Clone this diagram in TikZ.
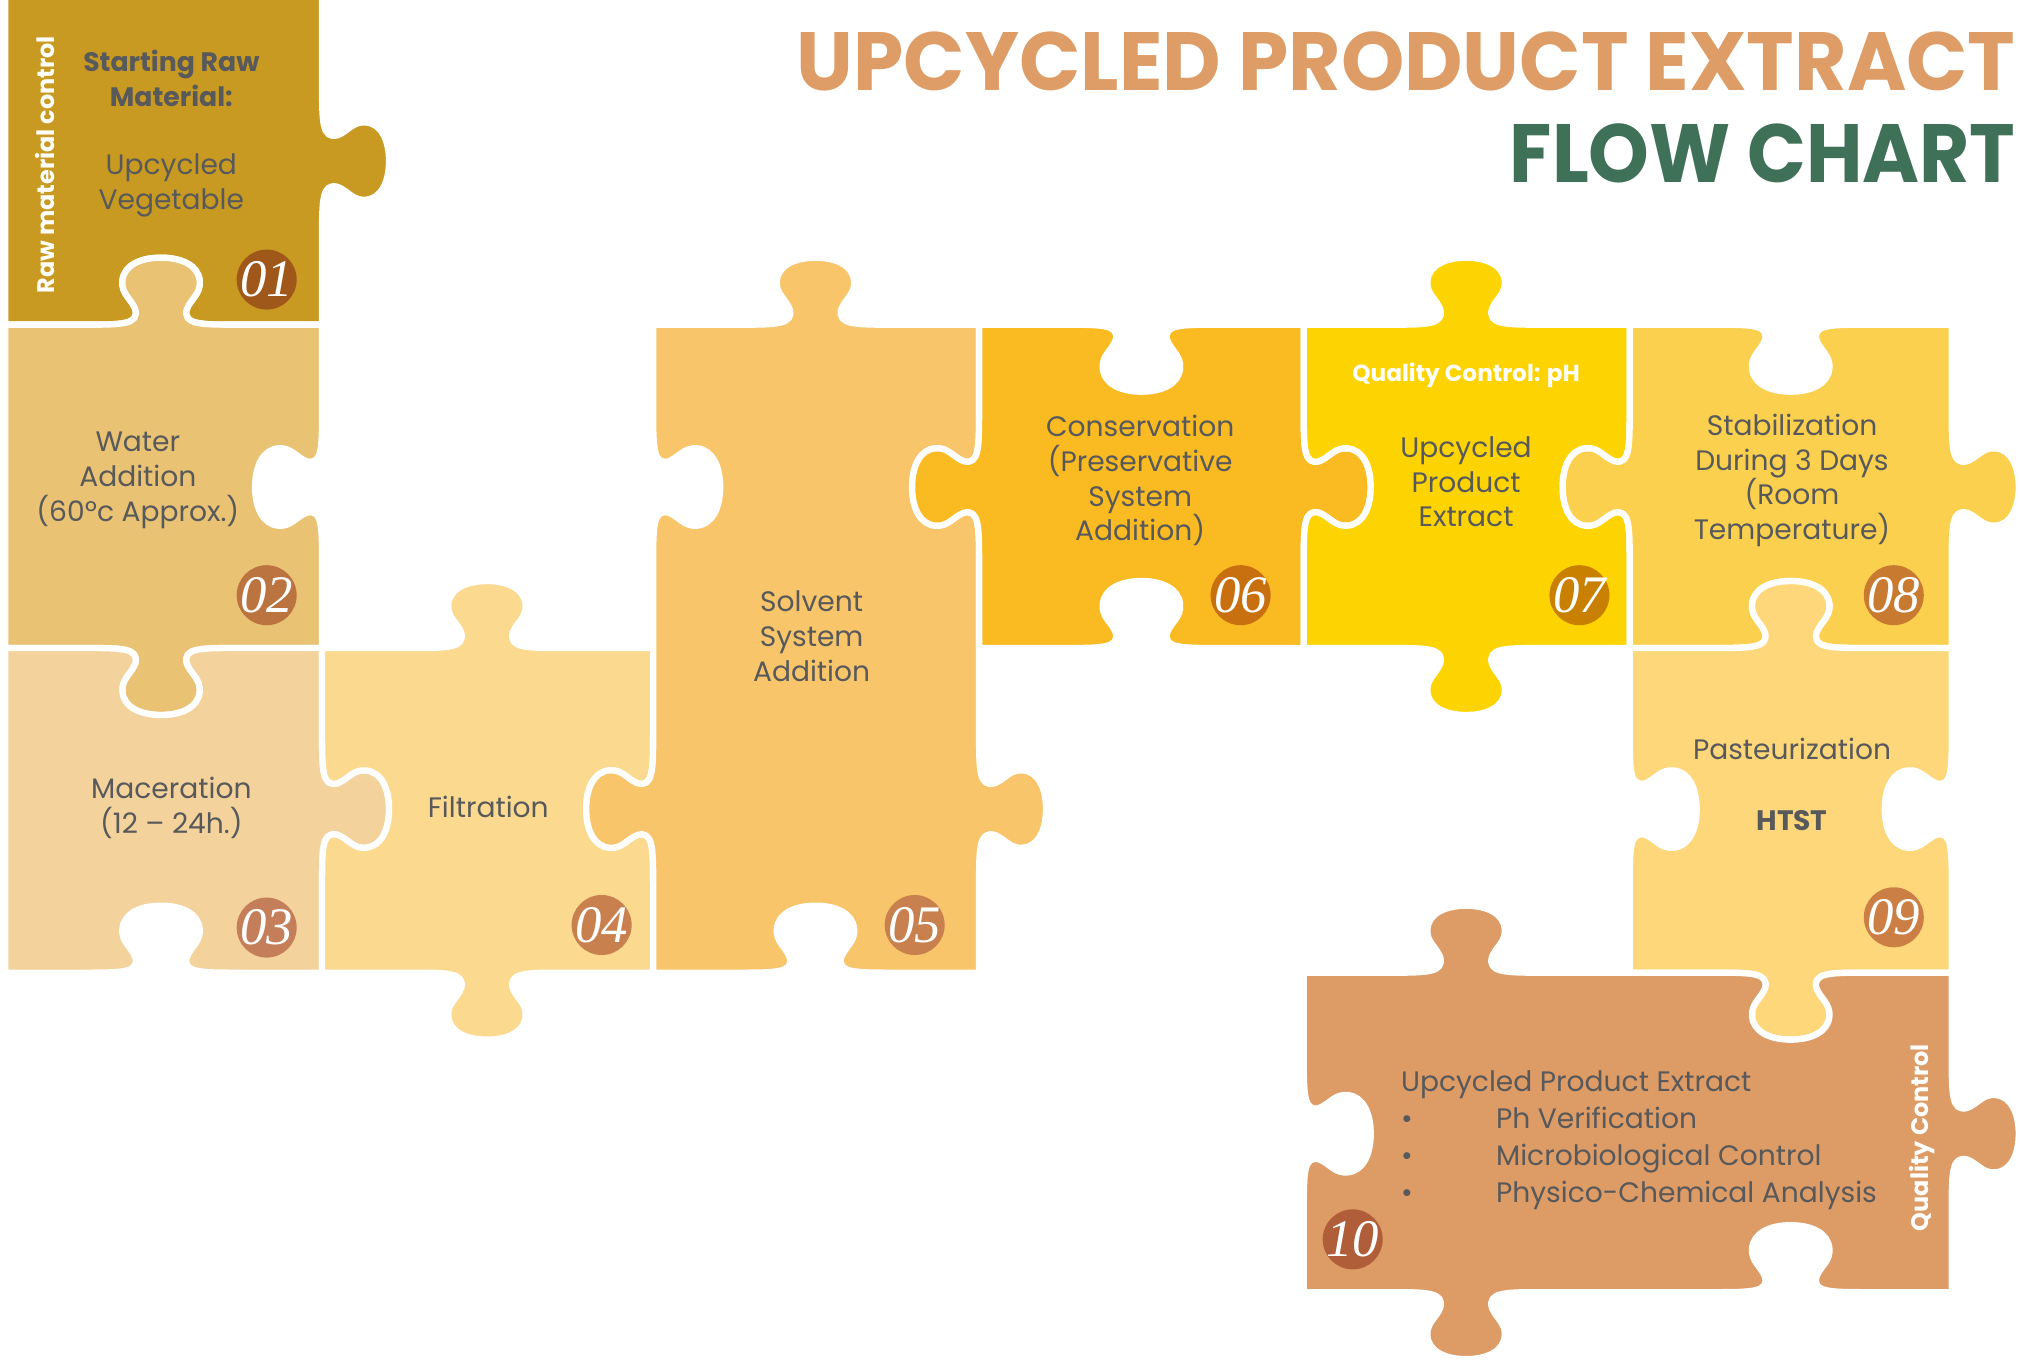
\documentclass[tikz,border=0pt]{standalone}
\usepackage{fontspec}
\setmainfont{Poppins}
\newfontfamily\numfont{Liberation Serif}
\usepackage{xcolor}
\usepackage{graphicx}
\usetikzlibrary{positioning}

\definecolor{ink}{HTML}{58595B}
\definecolor{titleorange}{HTML}{DE9D66}
\definecolor{titlegreen}{HTML}{3F7058}
\definecolor{c01}{HTML}{C89A22}
\definecolor{c02}{HTML}{E9C273}
\definecolor{c03}{HTML}{F4D29C}
\definecolor{c04}{HTML}{FBD98F}
\definecolor{c05}{HTML}{F8C56A}
\definecolor{c06}{HTML}{FABA22}
\definecolor{c07}{HTML}{FDD402}
\definecolor{c08}{HTML}{FBD04E}
\definecolor{c09}{HTML}{FDD77A}
\definecolor{c10}{HTML}{DD9B66}
\definecolor{d01}{HTML}{A0581A}
\definecolor{d02}{HTML}{BB7440}
\definecolor{d03}{HTML}{C47F5A}
\definecolor{d04}{HTML}{C8804F}
\definecolor{d05}{HTML}{C8804F}
\definecolor{d06}{HTML}{C8700F}
\definecolor{d07}{HTML}{C98000}
\definecolor{d08}{HTML}{C87A30}
\definecolor{d09}{HTML}{CC7F45}
\definecolor{d10}{HTML}{B05E3A}

% one tab on an edge: centre x, centre y, direction along the edge, 1 = out / -1 = in
\newcommand{\bump}[5]{%
  -- ({#1+(#3)*(-60)},{#2+(#4)*(-60)})
  .. controls ({#1+(#3)*(-30)},{#2+(#4)*(-30)})
  and ({#1+(#3)*(-17)},{#2+(#4)*(-17)})
  .. ({#1+(#3)*(-20)+(#5)*(#4)*12},{#2+(#4)*(-20)-(#5)*(#3)*12})
  .. controls ({#1+(#3)*(-23)+(#5)*(#4)*20},{#2+(#4)*(-23)-(#5)*(#3)*20})
  and ({#1+(#3)*(-31)+(#5)*(#4)*24},{#2+(#4)*(-31)-(#5)*(#3)*24})
  .. ({#1+(#3)*(-30)+(#5)*(#4)*34},{#2+(#4)*(-30)-(#5)*(#3)*34})
  .. controls ({#1+(#3)*(-29)+(#5)*(#4)*46},{#2+(#4)*(-29)-(#5)*(#3)*46})
  and ({#1+(#3)*(-16)+(#5)*(#4)*52},{#2+(#4)*(-16)-(#5)*(#3)*52})
  .. ({#1+(#5)*(#4)*52},{#2-(#5)*(#3)*52})
  .. controls ({#1+(#3)*16+(#5)*(#4)*52},{#2+(#4)*16-(#5)*(#3)*52})
  and ({#1+(#3)*29+(#5)*(#4)*46},{#2+(#4)*29-(#5)*(#3)*46})
  .. ({#1+(#3)*30+(#5)*(#4)*34},{#2+(#4)*30-(#5)*(#3)*34})
  .. controls ({#1+(#3)*31+(#5)*(#4)*24},{#2+(#4)*31-(#5)*(#3)*24})
  and ({#1+(#3)*23+(#5)*(#4)*20},{#2+(#4)*23-(#5)*(#3)*20})
  .. ({#1+(#3)*20+(#5)*(#4)*12},{#2+(#4)*20-(#5)*(#3)*12})
  .. controls ({#1+(#3)*17},{#2+(#4)*17})
  and ({#1+(#3)*30},{#2+(#4)*30})
  .. ({#1+(#3)*60},{#2+(#4)*60})}
\newcommand{\tabT}[3]{\bump{#1}{#2}{1}{0}{#3}}
\newcommand{\tabR}[3]{\bump{#1}{#2}{0}{1}{#3}}
\newcommand{\tabB}[3]{\bump{#1}{#2}{-1}{0}{#3}}
\newcommand{\tabL}[3]{\bump{#1}{#2}{0}{-1}{#3}}

\tikzset{%
	piece/.style={
		draw=white,
		line width=1.8pt,
		line join=round
	},
	steptext/.style={
		text=ink, align=center, inner sep=0pt,
		font=\fontsize{8}{9.9}\selectfont
	},
	sidelabel/.style={
		text=white, inner sep=0pt, rotate=90,
		font=\bfseries\fontsize{6.8}{7.5}\selectfont
	},
	numtext/.style={
		text=white, inner sep=0pt,
		font=\numfont\itshape\fontsize{15}{15}\selectfont
	},
	numdot/.style={
		circle, minimum size=6mm, inner sep=0pt,
		label={[numtext]center:#1}
	},
}

\begin{document}
\begin{tikzpicture}[x=0.1288mm, y=-0.1288mm]
				\useasboundingbox (0,0) rectangle (1568,1057);
				
				% Pieces of the puzzle
				\path[piece, fill=c01] (4,-4) -- (250,-4) \tabR{250}{125}{1} -- (250,252) \tabB{125}{252}{-1} -- (4,252) -- cycle;
				\path[piece, fill=c02] (4,252) \tabT{125}{252}{1} -- (250,252) \tabR{250}{378}{-1} -- (250,503) \tabB{125}{503}{1} -- (4,503) -- cycle;
				\path[piece, fill=c03] (4,503) \tabT{125}{503}{-1} -- (250,503) \tabR{250}{628}{1} -- (250,755) \tabB{125}{755}{-1} -- (4,755) -- cycle;
				\path[piece, fill=c04] (250,503) \tabT{378}{503}{1} -- (507,503) \tabR{507}{628}{-1} -- (507,755) \tabB{378}{755}{1} -- (250,755) \tabL{250}{628}{-1} -- cycle;
				\path[piece, fill=c05] (507,252) \tabT{633}{252}{1} -- (760,252) \tabR{760}{378}{-1} \tabR{760}{628}{1} -- (760,755) \tabB{633}{755}{-1} -- (507,755) \tabL{507}{628}{1} \tabL{507}{378}{-1} -- cycle;
				\path[piece, fill=c06] (760,252) \tabT{886}{252}{-1} -- (1012,252) \tabR{1012}{378}{1} -- (1012,503) \tabB{886}{503}{-1} -- (760,503) \tabL{760}{378}{1} -- cycle;
				\path[piece, fill=c07] (1012,252) \tabT{1138}{252}{1} -- (1265,252) \tabR{1265}{378}{-1} -- (1265,503) \tabB{1138}{503}{1} -- (1012,503) \tabL{1012}{378}{-1} -- cycle;
				\path[piece, fill=c08] (1265,252) \tabT{1390}{252}{-1} -- (1515,252) \tabR{1515}{378}{1} -- (1515,503) \tabB{1390}{503}{-1} -- (1265,503) \tabL{1265}{378}{1} -- cycle;
				\path[piece, fill=c09] (1265,503) \tabT{1390}{503}{1} -- (1515,503) \tabR{1515}{628}{-1} -- (1515,755) \tabB{1390}{755}{1} -- (1265,755) \tabL{1265}{628}{-1} -- cycle;
				\path[piece, fill=c10] (1012,755) \tabT{1138}{755}{1} \tabT{1390}{755}{-1} -- (1515,755) \tabR{1515}{880}{1} -- (1515,1003) \tabB{1390}{1003}{-1} \tabB{1138}{1003}{1} -- (1012,1003) \tabL{1012}{880}{-1} -- cycle;
				
				% Title
				\node[anchor=base east, inner sep=0pt, text=titleorange, font=\bfseries\fontsize{23.5}{24}\selectfont] (title) at (1565,70) {\scalebox{0.975}[1]{UPCYCLED PRODUCT EXTRACT}};
				\node[anchor=base east, inner sep=0pt, text=titlegreen, font=\bfseries\fontsize{23.5}{24}\selectfont] (subtitle) at (1565,142) {\scalebox{0.935}[1]{FLOW CHART}};
				
				% Texts of the steps
				\node[sidelabel] (rawctl) at (35,128) {Raw material control};
				\node[steptext, font=\bfseries\fontsize{7.6}{9.9}\selectfont] (raw) at (133,61) {Starting Raw\\Material:};
				\node[steptext] (veg) at (133,144) {Upcycled\\Vegetable};
				\node[steptext] (water) at (107,373) {Water\\Addition\\(60ºc Approx.)};
				\node[steptext] (macer) at (133,627) {Maceration\\(12 – 24h.)};
				\node[steptext] (filt) at (379,626) {Filtration};
				\node[steptext] (solv) at (630,494) {Solvent\\System\\Addition};
				\node[steptext] (cons) at (885,373) {Conservation\\(Preservative\\System\\Addition)};
				\node[steptext, text=white, font=\bfseries\fontsize{6.6}{8}\selectfont] (qcph) at (1138,291) {Quality Control: pH};
				\node[steptext] (extr) at (1138,374) {Upcycled\\Product\\Extract};
				\node[steptext] (stab) at (1391,373) {Stabilization\\During 3 Days\\(Room\\Temperature)};
				\node[steptext] (past) at (1391,581) {Pasteurization};
				\node[steptext, font=\bfseries\fontsize{8}{9.9}\selectfont, below=7.2mm of past.center, anchor=center] (htst) {HTST};
				\node[steptext, align=left, anchor=west, font=\fontsize{8}{10.6}\selectfont] (qc) at (1087,885) {Upcycled Product Extract\\
					\makebox[9.5mm][l]{\textbullet}Ph Verification\\
					\makebox[9.5mm][l]{\textbullet}Microbiological Control\\
					\makebox[9.5mm][l]{\textbullet}Physico-Chemical Analysis};
				\node[sidelabel] (qcside) at (1492,883) {Quality Control};
				
				% Numbers
				\node[numdot={01}, fill=d01] (n01) at (207,217) {};
				\node[numdot={02}, fill=d02] (n02) at (207,462) {};
				\node[numdot={03}, fill=d03] (n03) at (207,720) {};
				\node[numdot={04}, fill=d04] (n04) at (467,718) {};
				\node[numdot={05}, fill=d05] (n05) at (710,718) {};
				\node[numdot={06}, fill=d06] (n06) at (963,462) {};
				\node[numdot={07}, fill=d07] (n07) at (1226,462) {};
				\node[numdot={08}, fill=d08] (n08) at (1470,462) {};
				\node[numdot={09}, fill=d09] (n09) at (1470,712) {};
				\node[numdot={10}, fill=d10] (n10) at (1050,962) {};
				
			\end{tikzpicture}
\end{document}
